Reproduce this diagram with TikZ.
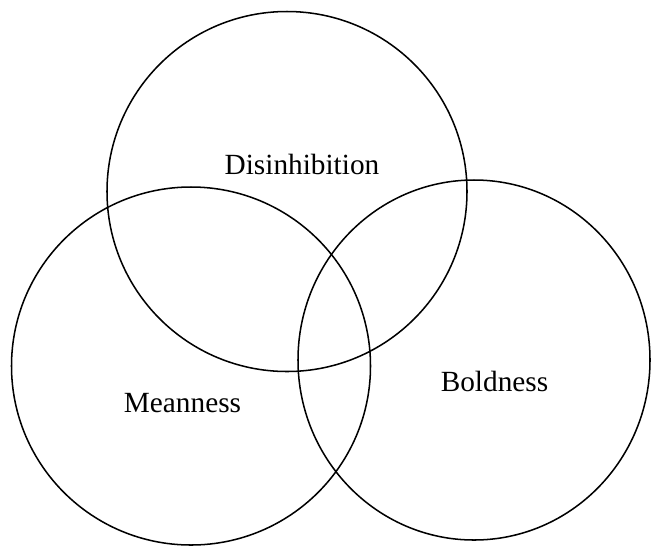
\documentclass[tikz,border=0pt]{standalone}
\usepackage{fontspec}
\setmainfont{Liberation Serif}
\usetikzlibrary{positioning}
\tikzset{
  ring/.style={draw=black, line width=1.3pt},
  trait/.style={font=\fontsize{25}{29}\selectfont, anchor=base, inner sep=0pt},
}
\begin{document}
\begin{tikzpicture}[x=0.03cm, y=-0.03cm]
    \useasboundingbox (0,0) rectangle (651,547);
    % circle centres
    \coordinate (dis) at (287,191.5);
    \coordinate (mea) at (191,366);
    \coordinate (bol) at (474,360);
    \draw[ring] (dis) ellipse [x radius=180, y radius=180];
    \draw[ring] (mea) ellipse [x radius=179.5, y radius=179];
    \draw[ring] (bol) ellipse [x radius=176, y radius=180];
    % labels
    \node[trait] (disl) at (302,174) {Disinhibition};
    \node[trait] (meal) at (182.5,412) {Meanness};
    \node[trait] (boll) at (494.5,391) {Boldness};
\end{tikzpicture}
\end{document}
